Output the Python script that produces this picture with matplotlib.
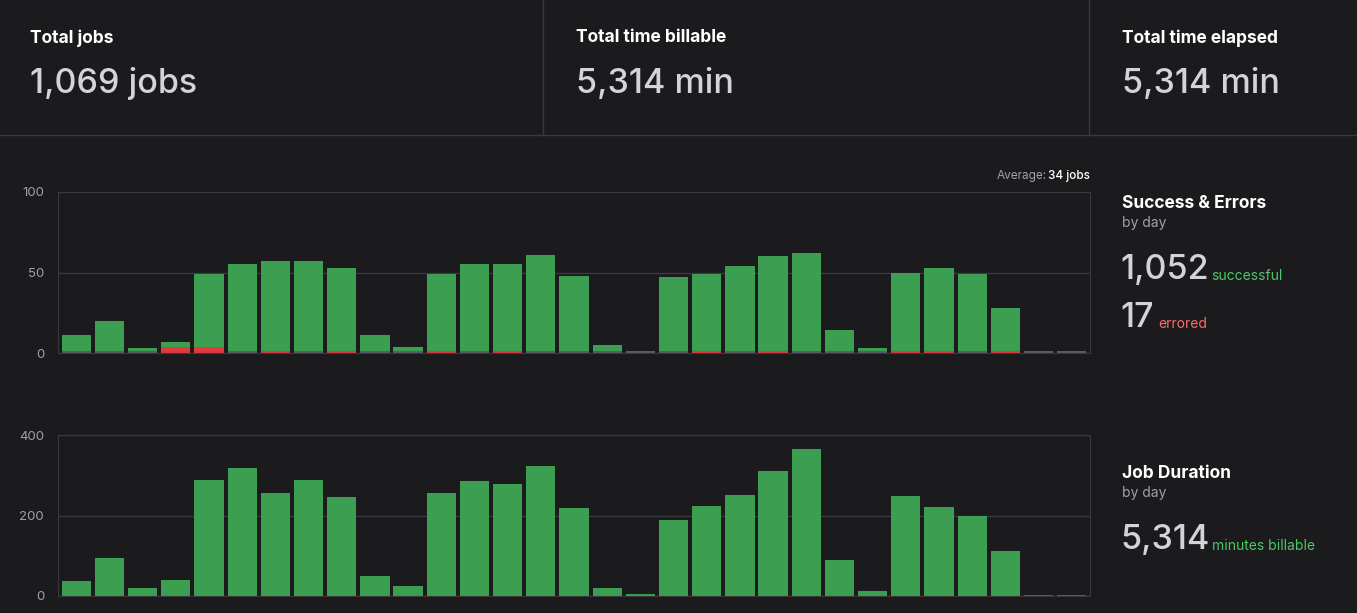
import numpy as np
import matplotlib.pyplot as plt

plt.rcParams['font.family'] = ['Inter', 'DejaVu Sans']

# daily jobs (successful + errored) and errors, 31 days
jobs = [11, 20, 3, 7, 49, 55, 57, 57, 53, 11, 4, 49, 55, 55, 61, 48, 5, 0,
        47, 49, 54, 60, 62, 14, 3, 50, 53, 49, 28, 0, 0]
errors = [0, 0, 0, 4, 4, 0, 1, 0, 1, 0, 0, 1, 0, 1, 0, 0, 0, 0,
          0, 1, 0, 1, 0, 0, 0, 1, 1, 0, 1, 0, 0]
minutes = [38, 95, 20, 40, 288, 318, 255, 288, 246, 50, 25, 255, 285, 278, 322,
           218, 20, 5, 188, 223, 252, 310, 365, 90, 12, 248, 222, 198, 112, 0, 0]

BG = '#1b1b1e'
GREEN = '#3b9e50'
RED = '#e0393e'
GRAY = '#5c5c63'
GRID = '#38383d'
W, H = 1357, 613

fig = plt.figure(figsize=(W / 100, H / 100), dpi=100, facecolor=BG)

def px(x0, y0, x1, y1):
    return [x0 / W, 1 - y1 / H, (x1 - x0) / W, (y1 - y0) / H]

# header
for x, title, val in [(30, 'Total jobs', '1,069 jobs'), (576, 'Total time billable', '5,314 min'),
                      (1122, 'Total time elapsed', '5,314 min')]:
    fig.text(x / W, 1 - 38 / H, title, color='white', fontsize=12.5, weight='bold', va='center')
    fig.text(x / W, 1 - 84 / H, val, color='#d4d4d8', fontsize=24.5, weight='medium', va='center')
fig.add_artist(plt.Line2D([0, 1], [1 - 135 / H] * 2, color=GRID, lw=1))
for x in (543, 1089):
    fig.add_artist(plt.Line2D([x / W] * 2, [1 - 135 / H, 1], color=GRID, lw=1))

x = np.arange(len(jobs))

def style(ax, ymax, ticks):
    ax.set_facecolor(BG)
    ax.set_xlim(-0.55, len(jobs) - 0.45)
    ax.set_ylim(0, ymax)
    ax.set_yticks(ticks)
    ax.tick_params(length=0, colors='#a0a0a6', labelsize=9.5, pad=10)
    ax.grid(axis='y', color=GRID, lw=1)
    ax.set_axisbelow(True)
    ax.set_xticks([])
    for s in ax.spines.values():
        s.set_color(GRID)

ax1 = fig.add_axes(px(58, 192, 1090, 353))
style(ax1, 100, [0, 50, 100])
ax1.bar(x, jobs, width=0.88, color=GREEN)
ax1.bar(x, 1.2, width=0.88, color=GRAY)
ax1.bar(x, [e if e == 0 else max(e, 1.2) for e in errors], width=0.88, color=RED)
fig.text(1047 / W, 1 - 176 / H, 'Average:', color='#a0a0a6', fontsize=8.5, ha='right', va='center')
fig.text(1090 / W, 1 - 176 / H, '34 jobs', color='white', fontsize=8.5, ha='right', va='center',
         weight='medium')

ax2 = fig.add_axes(px(58, 435, 1090, 596))
style(ax2, 400, [0, 200, 400])
ax2.bar(x, minutes, width=0.88, color=GREEN)
ax2.bar(x, [3 if m == 0 else 0 for m in minutes], width=0.88, color=GRAY)

# side panels
fig.text(1122 / W, 1 - 203 / H, 'Success & Errors', color='white', fontsize=12.5, weight='bold', va='center')
fig.text(1122 / W, 1 - 223 / H, 'by day', color='#a0a0a6', fontsize=10, va='center')
fig.text(1120 / W, 1 - 270 / H, '1,052', color='#d4d4d8', fontsize=24.5, weight='medium', va='center')
fig.text(1211 / W, 1 - 276 / H, 'successful', color='#4cc763', fontsize=10, va='center')
fig.text(1120 / W, 1 - 318 / H, '17', color='#d4d4d8', fontsize=24.5, weight='medium', va='center')
fig.text(1158 / W, 1 - 324 / H, 'errored', color='#ff6b6b', fontsize=10, va='center')

fig.text(1122 / W, 1 - 473 / H, 'Job Duration', color='white', fontsize=12.5, weight='bold', va='center')
fig.text(1122 / W, 1 - 493 / H, 'by day', color='#a0a0a6', fontsize=10, va='center')
fig.text(1120 / W, 1 - 540 / H, '5,314', color='#d4d4d8', fontsize=24.5, weight='medium', va='center')
fig.text(1212 / W, 1 - 546 / H, 'minutes billable', color='#4cc763', fontsize=10, va='center')

fig.savefig('out.png', dpi=100, facecolor=BG)
